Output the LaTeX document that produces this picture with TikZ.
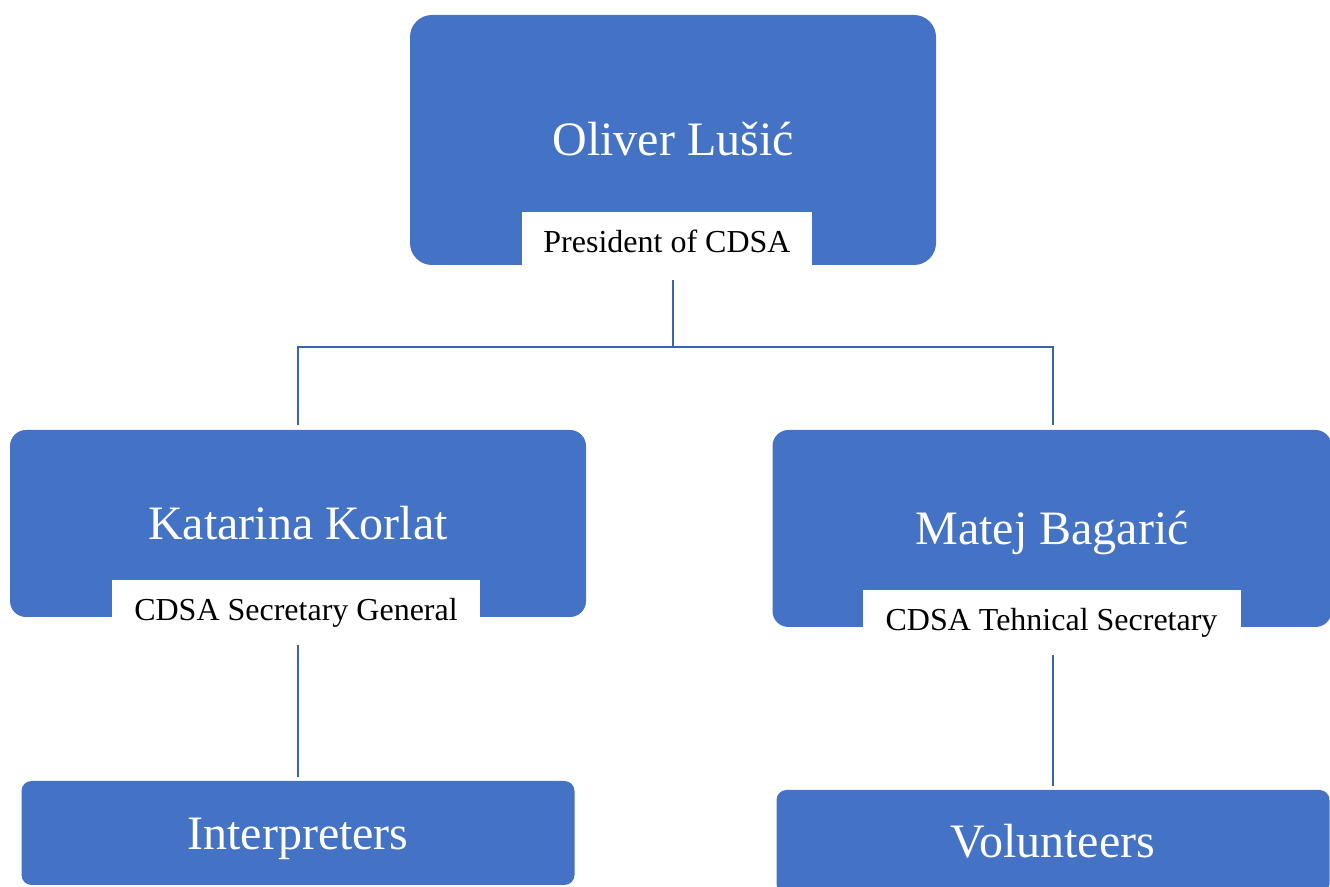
\documentclass[tikz,border=0pt]{standalone}
\usepackage{fontspec}
\setmainfont{Liberation Serif}
\usepackage{tikz}
\definecolor{cdsablue}{HTML}{4472C4}
\definecolor{linkblue}{HTML}{3A64B0}

\begin{document}
\begin{tikzpicture}[x=0.5pt,y=-0.5pt]
	\useasboundingbox (0,0) rectangle (1330,887);
	\clip (0,0) rectangle (1330,887);

	\begin{scope}[every node/.style={fill=cdsablue, text=white, inner sep=0pt,
	              font=\fontsize{24}{28}\selectfont, text height=16pt, text depth=0pt}]
		\node[minimum width=263pt, minimum height=125pt, rounded corners=11pt] (ol) at (673,140) {Oliver Lušić};
		\node[minimum width=288pt, minimum height=93.5pt, rounded corners=8pt] (kk) at (298,523.5) {Katarina Korlat};
		\node[minimum width=279.5pt, minimum height=98.5pt, rounded corners=8pt] (mb) at (1052,528.5) {Matej Bagarić};
		\node[minimum width=276.5pt, minimum height=52pt, rounded corners=5pt] (int) at (298,833) {Interpreters};
		\node[minimum width=276.5pt, minimum height=52pt, rounded corners=5pt] (vol) at (1053,842) {Volunteers};
	\end{scope}

	\begin{scope}[every node/.style={fill=white, inner sep=0pt, minimum height=30pt,
	              font=\fontsize{16}{19}\selectfont, text height=10.5pt, text depth=0pt}]
		\node[minimum width=145pt] (ollbl) at (667,242) {President of CDSA};
		\node[minimum width=184pt] (kklbl) at (296,610) {CDSA Secretary General};
		\node[minimum width=189pt] (mblbl) at (1051.5,620) {CDSA Tehnical Secretary};
	\end{scope}

	\begin{scope}[every path/.style={draw=linkblue, line width=1.2pt}]
		\coordinate (bus) at (673,347);
		\path[shorten <=4pt, shorten >=2.5pt] (ol.south |- ollbl.south) -- (bus) -| (int.north |- kk.north);
		\path[shorten >=2.5pt] (bus) -| (vol.north |- mb.north);
		\path[shorten <=2.5pt, shorten >=2pt] (int.north |- kklbl.south) -- (int.north);
		\path[shorten <=2.5pt, shorten >=2pt] (vol.north |- mblbl.south) -- (vol.north);
	\end{scope}
\end{tikzpicture}
\end{document}
